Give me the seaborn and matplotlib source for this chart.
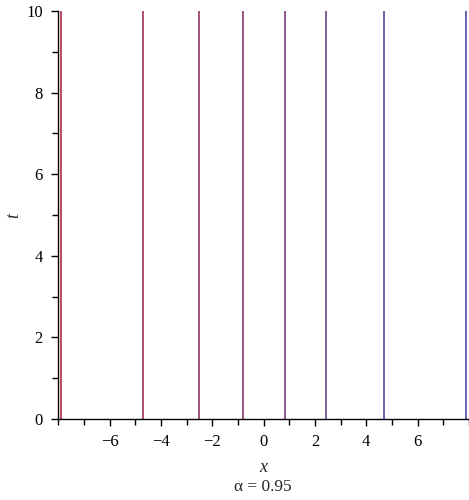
import numpy as np
import pandas as pd
import matplotlib
matplotlib.use("Agg")
import matplotlib.pyplot as plt
from matplotlib.colors import LinearSegmentedColormap
from matplotlib.ticker import MultipleLocator
import seaborn as sns

# Contour positions (x where the level lines sit), t range
x_levels = [-7.88, -4.70, -2.52, -0.82, 0.82, 2.45, 4.70, 7.88]
t_range = [0, 10]
x_ticks = [-6, -4, -2, 0, 2, 4, 6]
t_ticks = [0, 2, 4, 6, 8, 10]
caption = "α = 0.95"

# long-form table: one vertical segment per level
rows = []
for i, xv in enumerate(x_levels):
    for tv in t_range:
        rows.append({"x": xv, "t": tv, "level": i})
df = pd.DataFrame(rows)

sns.set_theme(style="ticks")
plt.rcParams["font.family"] = ["Liberation Serif", "DejaVu Serif"]

cmap = LinearSegmentedColormap.from_list("rb", ["#a31c36", "#7a2a6e", "#3a3a9e"])
palette = [cmap(i / (len(x_levels) - 1)) for i in range(len(x_levels))]

fig = plt.figure(figsize=(4.69, 5.0), dpi=100)
ax = fig.add_axes([0.124, 0.162, 0.876, 0.816])

sns.lineplot(data=df, x="x", y="t", hue="level", palette=palette,
             estimator=None, sort=False, orient="y", legend=False,
             linewidth=1.1, ax=ax)

ax.set_xlim(-8, 8)
ax.set_ylim(0, 10)
ax.set_xticks(x_ticks)
ax.set_yticks(t_ticks)
ax.xaxis.set_minor_locator(MultipleLocator(1))
ax.yaxis.set_minor_locator(MultipleLocator(1))
ax.set_xticklabels(["\u2212" + str(-v) if v < 0 else str(v) for v in x_ticks])
ax.tick_params(which="major", length=5, width=1, color="black",
               labelsize=12, labelcolor="black", pad=6)
ax.tick_params(which="minor", length=4, width=1, color="black")

sns.despine(ax=ax)
for s in ["left", "bottom"]:
    ax.spines[s].set_color("black")
    ax.spines[s].set_linewidth(1)

ax.set_xlabel("x", fontstyle="italic", fontsize=13, labelpad=6)
ax.set_ylabel("t", fontstyle="italic", fontsize=13, labelpad=3)
fig.text(0.56, 0.026, caption, fontsize=12.5, ha="center", va="center")

fig.savefig("out.png", dpi=100)
